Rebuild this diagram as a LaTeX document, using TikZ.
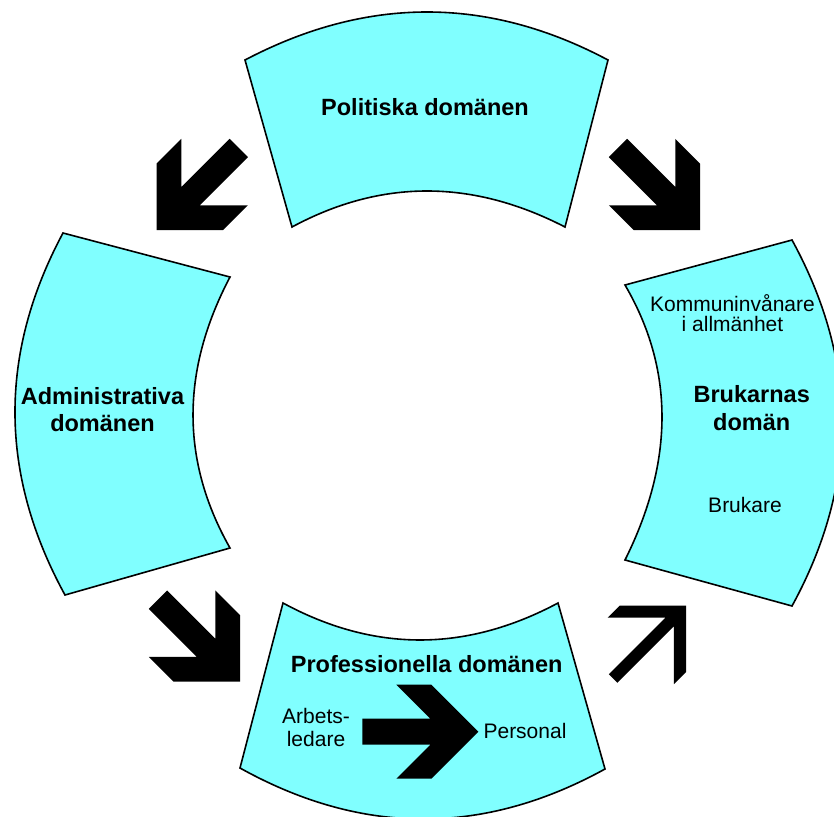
\documentclass[tikz,border=0pt]{standalone}
\usepackage{fontspec}
\setmainfont{Liberation Sans}
\definecolor{domcyan}{RGB}{128,255,255}
\begin{document}
\begin{tikzpicture}[x=1pt,y=-1pt,
  dombox/.style={fill=domcyan,draw=black,line width=1.6pt,line join=miter},
  boldlbl/.style={font=\fontsize{23.5}{27.7}\selectfont\bfseries,align=center,anchor=base,inner sep=0pt},
  plainlbl/.style={font=\fontsize{21}{20.7}\selectfont,align=center,anchor=base,inner sep=0pt},
  bigarrow/.pic={\fill[black] (0,0) -- (-47,47) -- (-82,47) -- (-48,13) -- (-116,13) -- (-116,-13) -- (-48,-13) -- (-82,-47) -- (-47,-47) -- cycle;},
  slimarrow/.pic={\fill[black] (0,0) -- (-47,47) -- (-64,47) -- (-23,6) -- (-103,6) -- (-103,-6) -- (-23,-6) -- (-64,-47) -- (-47,-47) -- cycle;}
]
\useasboundingbox[fill=white] (0,0) rectangle (834,816);

% Politiska domanen (top)
\draw[dombox] (245,60) .. controls (366.7,-4) and (487.7,-4) .. (608,60)
  -- (565,227) .. controls (472,179) and (381,179) .. (292,227) -- cycle;
% Administrativa domanen (left)
\draw[dombox] (63,233) -- (230,277) .. controls (180.7,370.7) and (180.7,461) .. (230,548)
  -- (65,595) .. controls (-1,474.3) and (-1.7,353.7) .. (63,233) -- cycle;
% Brukarnas doman (right)
\draw[dombox] (792,240) .. controls (858.7,362) and (858.7,484) .. (792,606)
  -- (625,560) .. controls (674.3,461) and (674.3,369.3) .. (625,285) -- cycle;
% Professionella domanen (bottom)
\draw[dombox] (283,603) .. controls (374,652.3) and (465.7,652.3) .. (558,603)
  -- (605,769) .. controls (483.3,836) and (361.7,835.7) .. (240,768) -- cycle;

% block arrows
\pic[rotate=225] at (156.7,230) {bigarrow};
\pic[rotate=-45] at (700,230) {bigarrow};
\pic[rotate=-45] at (240,681.7) {bigarrow};
\pic[rotate=45] at (686,605.7) {slimarrow};
\pic at (478.3,731.7) {bigarrow};

% labels (base anchor = baseline of last line)
\node[boldlbl] (pol) at (425,115) {Politiska domänen};
\node[boldlbl] (adm) at (102.5,431.7) {Administrativa\\domänen};
\node[boldlbl,font=\fontsize{23.5}{27.3}\selectfont\bfseries] (bru) at (751.7,430) {Brukarnas\\domän};
\node[plainlbl] (kom) at (732.5,331.7) {Kommuninvånare\\i allmänhet};
\node[plainlbl] (buk) at (745,512.7) {Brukare};
\node[boldlbl] (pro) at (426.7,672.7) {Professionella domänen};
\node[plainlbl,font=\fontsize{21}{23.7}\selectfont] (arb) at (316,746.7) {Arbets-\\ledare};
\node[plainlbl] (per) at (525,738.3) {Personal};
\end{tikzpicture}
\end{document}
